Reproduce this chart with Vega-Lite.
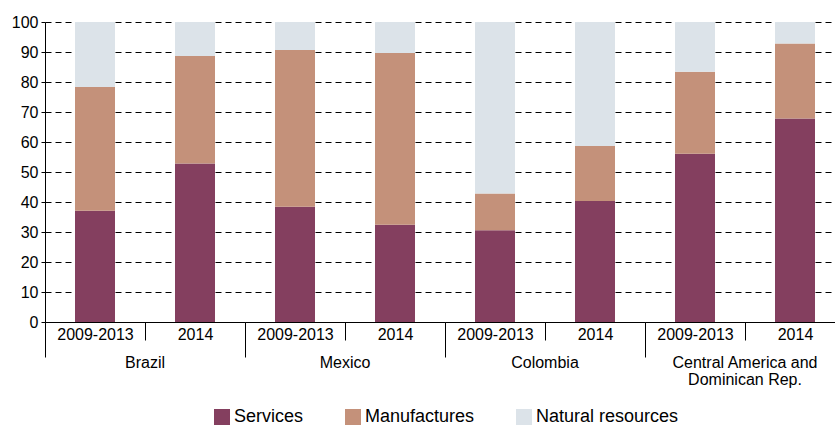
{
  "$schema": "https://vega.github.io/schema/vega-lite/v6.json",
  "padding": {"left": 11, "top": 14, "right": 0, "bottom": 0},
  "background": "white",
  "data": {"values": [
    {"country": "Brazil", "period": "2009-2013", "type": "Services", "typeOrder": 1, "value": 37.1},
    {"country": "Brazil", "period": "2009-2013", "type": "Manufactures", "typeOrder": 2, "value": 41.2},
    {"country": "Brazil", "period": "2009-2013", "type": "Natural resources", "typeOrder": 3, "value": 21.7},
    {"country": "Brazil", "period": "2014", "type": "Services", "typeOrder": 1, "value": 52.8},
    {"country": "Brazil", "period": "2014", "type": "Manufactures", "typeOrder": 2, "value": 35.9},
    {"country": "Brazil", "period": "2014", "type": "Natural resources", "typeOrder": 3, "value": 11.3},
    {"country": "Mexico", "period": "2009-2013", "type": "Services", "typeOrder": 1, "value": 38.4},
    {"country": "Mexico", "period": "2009-2013", "type": "Manufactures", "typeOrder": 2, "value": 52.3},
    {"country": "Mexico", "period": "2009-2013", "type": "Natural resources", "typeOrder": 3, "value": 9.3},
    {"country": "Mexico", "period": "2014", "type": "Services", "typeOrder": 1, "value": 32.4},
    {"country": "Mexico", "period": "2014", "type": "Manufactures", "typeOrder": 2, "value": 57.3},
    {"country": "Mexico", "period": "2014", "type": "Natural resources", "typeOrder": 3, "value": 10.3},
    {"country": "Colombia", "period": "2009-2013", "type": "Services", "typeOrder": 1, "value": 30.6},
    {"country": "Colombia", "period": "2009-2013", "type": "Manufactures", "typeOrder": 2, "value": 12.2},
    {"country": "Colombia", "period": "2009-2013", "type": "Natural resources", "typeOrder": 3, "value": 57.2},
    {"country": "Colombia", "period": "2014", "type": "Services", "typeOrder": 1, "value": 40.3},
    {"country": "Colombia", "period": "2014", "type": "Manufactures", "typeOrder": 2, "value": 18.4},
    {"country": "Colombia", "period": "2014", "type": "Natural resources", "typeOrder": 3, "value": 41.3},
    {"country": "Central America and Dominican Rep.", "period": "2009-2013", "type": "Services", "typeOrder": 1, "value": 56.1},
    {"country": "Central America and Dominican Rep.", "period": "2009-2013", "type": "Manufactures", "typeOrder": 2, "value": 27.3},
    {"country": "Central America and Dominican Rep.", "period": "2009-2013", "type": "Natural resources", "typeOrder": 3, "value": 16.6},
    {"country": "Central America and Dominican Rep.", "period": "2014", "type": "Services", "typeOrder": 1, "value": 67.8},
    {"country": "Central America and Dominican Rep.", "period": "2014", "type": "Manufactures", "typeOrder": 2, "value": 25.0},
    {"country": "Central America and Dominican Rep.", "period": "2014", "type": "Natural resources", "typeOrder": 3, "value": 7.2}
  ]},
  "spacing": 0,
  "facet": {
    "column": {
      "field": "country", "type": "nominal",
      "sort": ["Brazil", "Mexico", "Colombia", "Central America and Dominican Rep."],
      "title": null,
      "header": {
        "labelOrient": "bottom",
        "labelFont": "Liberation Sans",
        "labelFontSize": 16,
        "labelColor": "black",
        "labelLineHeight": 17,
        "labelPadding": -3,
        "labelExpr": "datum.value == 'Central America and Dominican Rep.' ? ['Central America and', 'Dominican Rep.'] : datum.value"
      }
    }
  },
  "spec": {
    "width": 200,
    "height": 300,
    "mark": {"type": "bar"},
    "encoding": {
      "x": {
        "field": "period", "type": "nominal", "sort": ["2009-2013", "2014"],
        "scale": {"paddingInner": 0.6, "paddingOuter": 0.3},
        "axis": {
          "title": null, "labelAngle": 0,
          "tickOffset": -50, "labelOffset": 50,
          "tickSize": {"condition": {"test": "datum.value == '2009-2013'", "value": 35}, "value": 18},
          "labelPadding": {"condition": {"test": "datum.value == '2009-2013'", "value": -31}, "value": -14},
          "domainColor": "black", "tickColor": "black",
          "labelFont": "Liberation Sans", "labelFontSize": 16, "labelColor": "black"
        }
      },
      "y": {
        "field": "value", "type": "quantitative", "stack": "zero",
        "scale": {"domain": [0, 100], "nice": false},
        "axis": {
          "title": null, "values": [0, 10, 20, 30, 40, 50, 60, 70, 80, 90, 100],
          "tickSize": 4, "labelPadding": 3,
          "domainColor": "black", "tickColor": "black",
          "grid": true, "gridColor": "black", "gridDash": [6, 4], "gridOpacity": 1, "gridWidth": 1,
          "labelFont": "Liberation Sans", "labelFontSize": 16, "labelColor": "black"
        }
      },
      "order": {"field": "typeOrder", "type": "quantitative", "sort": "ascending"},
      "color": {
        "field": "type", "type": "nominal",
        "sort": ["Services", "Manufactures", "Natural resources"],
        "scale": {"domain": ["Services", "Manufactures", "Natural resources"], "range": ["#843F5F", "#C4917A", "#DCE3E9"]},
        "legend": {
          "title": null, "orient": "none", "legendX": 168, "legendY": 386, "direction": "horizontal",
          "symbolType": "square", "symbolSize": 256, "symbolStrokeWidth": 0, "symbolOpacity": 1,
          "labelFont": "Liberation Sans", "labelFontSize": 18, "labelColor": "black",
          "columnPadding": 40, "labelOffset": 3
        }
      }
    }
  },
  "config": {
    "view": {"stroke": null},
    "axis": {"domainWidth": 1, "tickWidth": 1}
  }
}
